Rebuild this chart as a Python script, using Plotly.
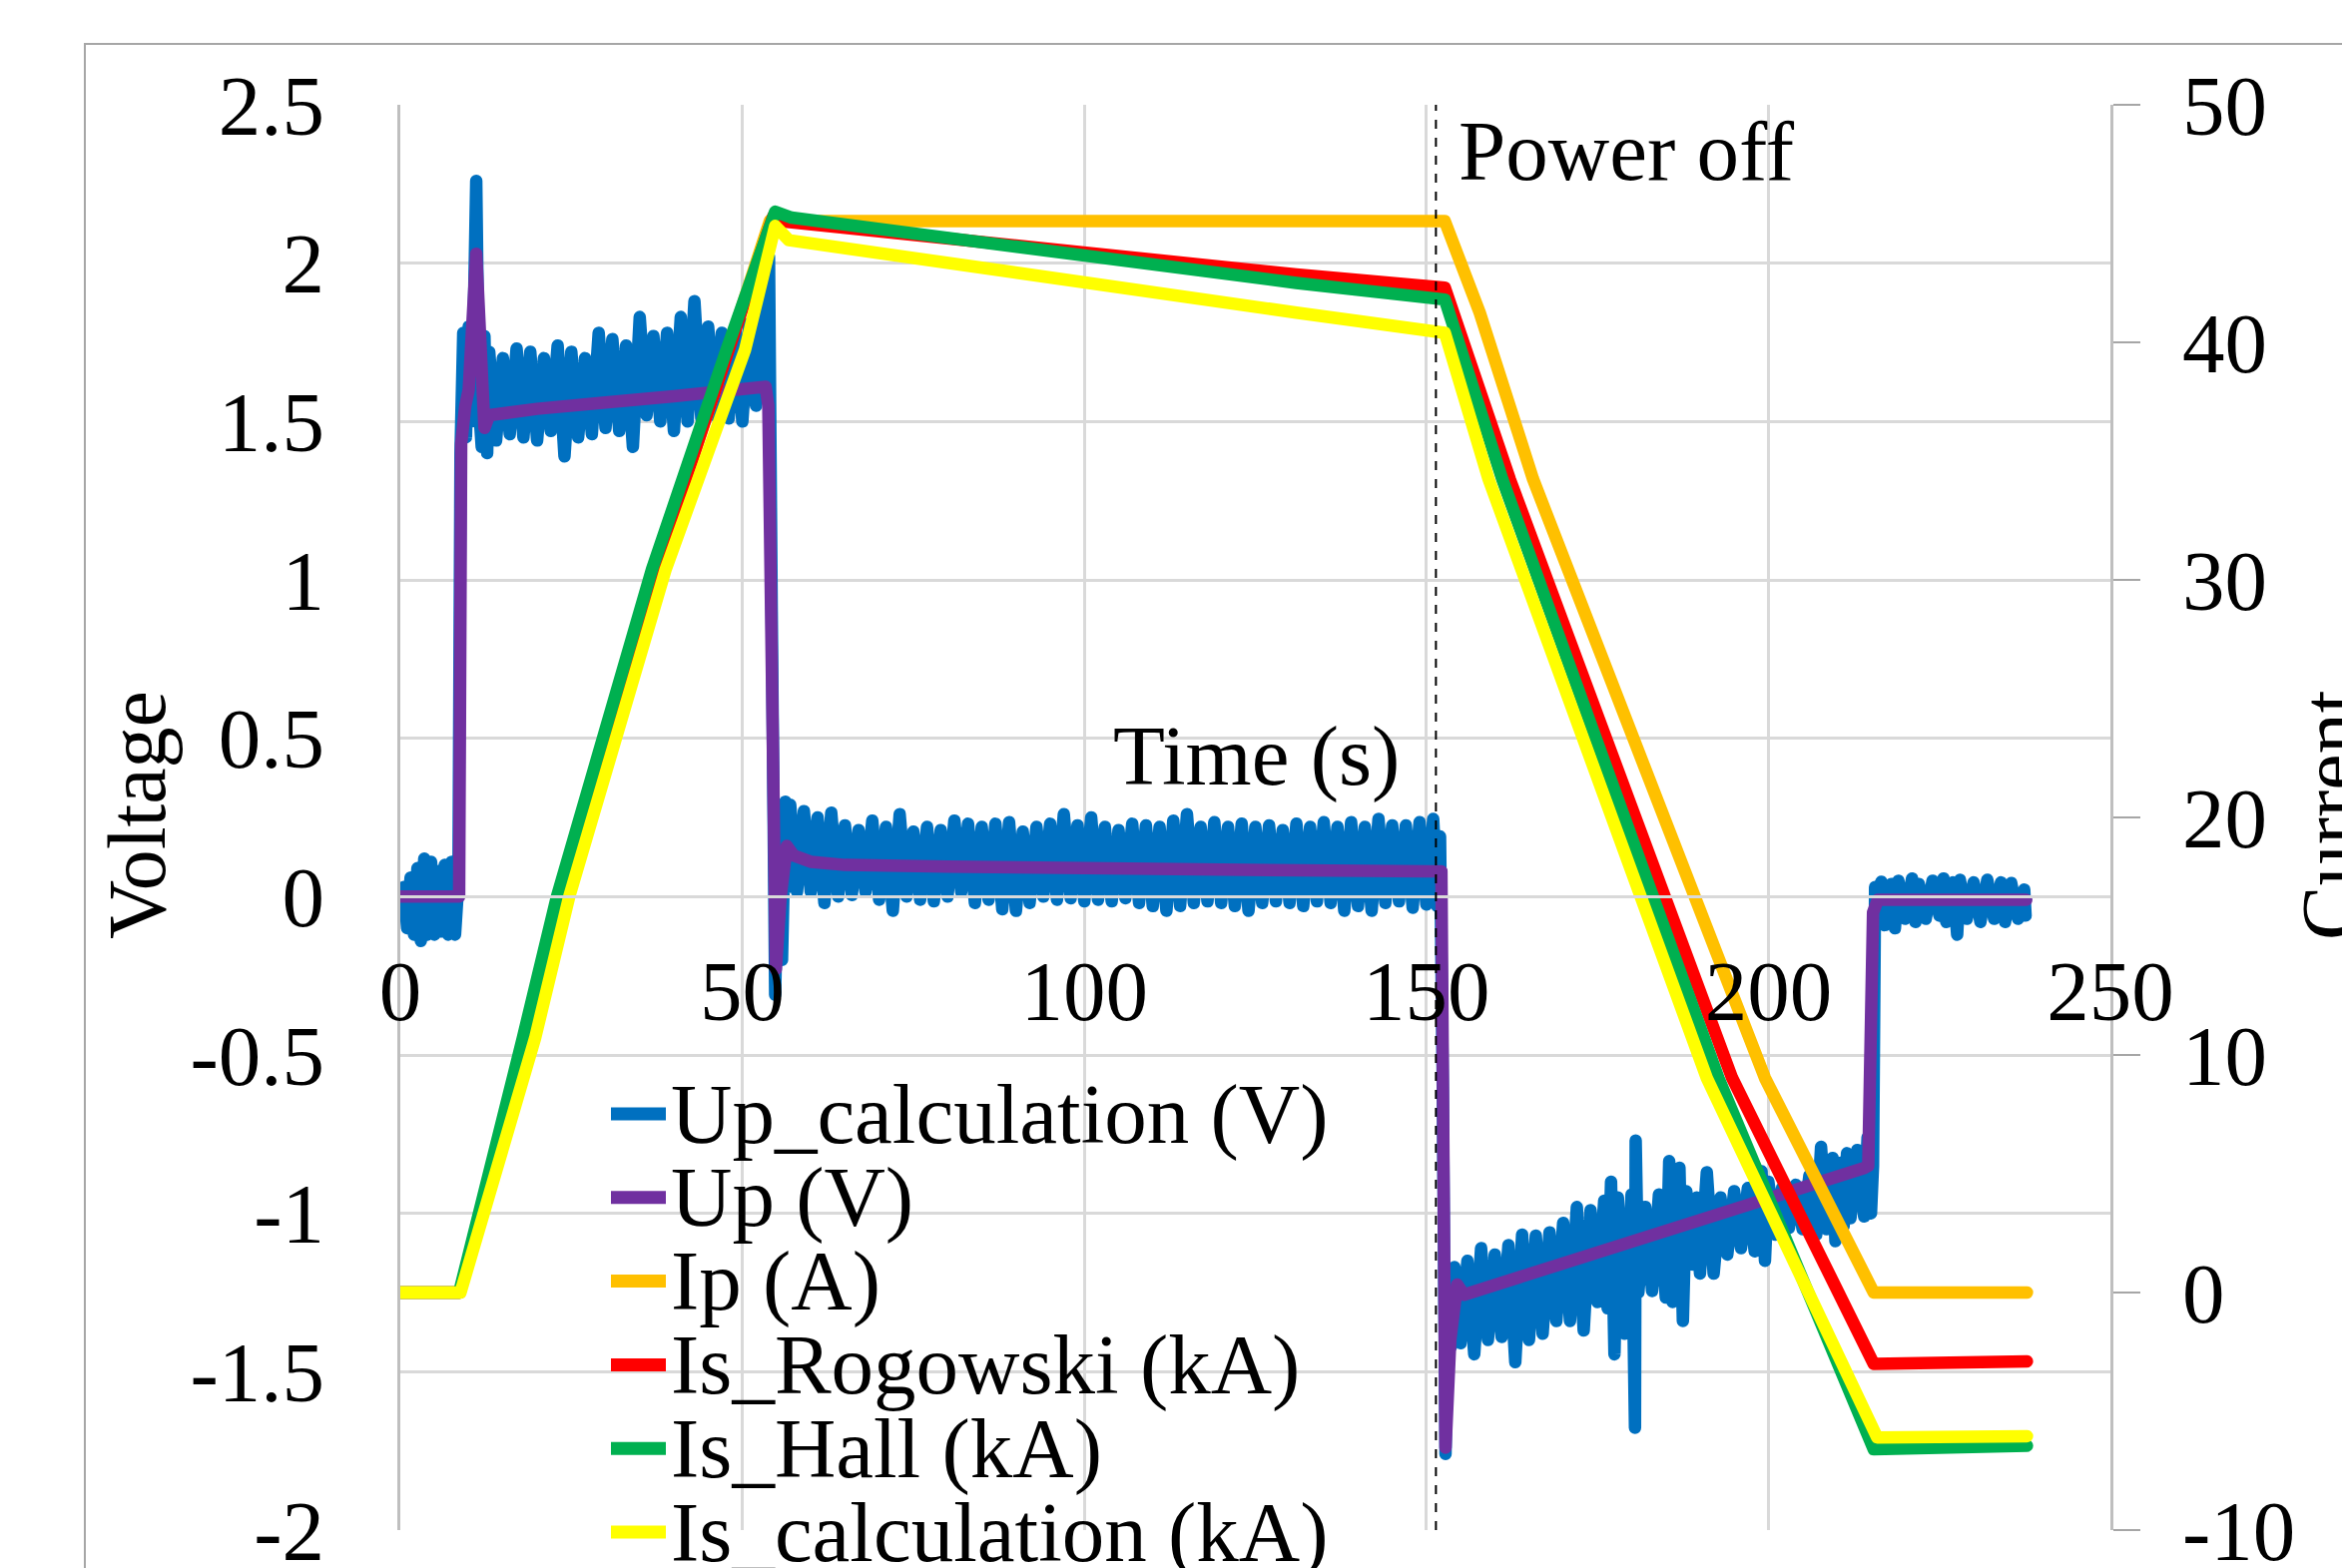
import plotly.graph_objects as go

# ---------------- data ----------------
# Up_calculation (V): dense noisy signal, sampled as alternating high/low readings
t_blue = [0, 0.5, 1, 1.5, 2, 2.5, 3, 3.5, 4, 4.5, 5, 5.5, 6, 6.5, 7, 7.5, 8, 8.5,
          8.8, 9.2, 9.6, 10.0, 10.4, 10.8, 11.1, 11.5, 11.9, 12.3, 12.7,
          13, 14, 15, 16, 17, 18, 19, 20, 21, 22, 23, 24, 25, 26, 27, 28, 29, 30,
          31, 32, 33, 34, 35, 36, 37, 38, 39, 40, 41, 42, 43, 44, 45, 46, 47, 48,
          49, 50, 51, 52, 53, 53.5, 53.9, 54.3, 54.8, 55.3, 55.8, 56.3, 56.7,
          57, 58, 59, 60, 61, 62, 63, 64, 65, 66, 67, 68, 69, 70, 71, 72, 73, 74,
          75, 76, 77, 78, 79, 80, 81, 82, 83, 84, 85, 86, 87, 88, 89, 90, 91, 92,
          93, 94, 95, 96, 97, 98, 99, 100, 101, 102, 103, 104, 105, 106, 107, 108,
          109, 110, 111, 112, 113, 114, 115, 116, 117, 118, 119, 120, 121, 122,
          123, 124, 125, 126, 127, 128, 129, 130, 131, 132, 133, 134, 135, 136,
          137, 138, 139, 140, 141, 142, 143, 144, 145, 146, 147, 148, 149, 150,
          151, 151.6, 152.0, 152.4, 152.8, 153.2, 153.6, 154.1,
          155, 156, 157, 158, 159, 160, 161, 162, 163, 164, 165, 166, 167, 168,
          169, 170, 171, 172, 173, 174, 175, 176, 176.5, 177, 177.5, 178, 179,
          180, 180.5, 180.6, 181, 182, 183, 184, 185, 185.5, 186, 187, 187.5, 188,
          189, 189.5, 190, 191, 192, 193, 194, 195, 196, 197, 198, 199, 199.5,
          200, 201, 202, 203, 204, 205, 206, 207, 207.7, 208.5, 209.4, 209.8,
          210.5, 211, 211.5, 212, 213, 214, 214.5, 215, 215.3,
          215.6, 216, 216.5, 217, 218, 218.5, 219, 220, 221, 221.5, 222, 223, 224,
          225, 225.6, 226, 227, 227.6, 228, 229, 230, 231, 232, 233, 234, 234.6,
          235.5, 236.5, 237.4, 237.6]
v_blue = [0.0, 0.03, -0.10, 0.06, -0.12, 0.09, -0.14, 0.12, -0.12, 0.11, -0.12, 0.08, -0.11, 0.10, -0.12, 0.11, -0.12, 0.05,
          1.40, 1.78, 1.45, 1.80, 1.50, 1.90, 2.26, 1.55, 1.42, 1.77, 1.40,
          1.72, 1.44, 1.70, 1.46, 1.73, 1.45, 1.72, 1.44, 1.70, 1.47, 1.74, 1.39, 1.72, 1.45, 1.70, 1.46, 1.78, 1.48,
          1.76, 1.47, 1.74, 1.42, 1.83, 1.52, 1.77, 1.50, 1.78, 1.47, 1.83, 1.50, 1.88, 1.51, 1.80, 1.52, 1.78, 1.51,
          1.79, 1.50, 1.81, 1.55, 1.86, 1.58, 2.02, 0.90, -0.31, 0.28, -0.20, 0.30, 0.03,
          0.29, 0.015, 0.27, 0.015, 0.25, -0.02, 0.265, 0.0, 0.225, 0.005, 0.21, 0.015, 0.24, -0.01, 0.22, -0.045, 0.26, 0.0,
          0.205, -0.01, 0.22, -0.015, 0.21, 0.0, 0.24, 0.015, 0.23, -0.02, 0.22, -0.01, 0.23, -0.04, 0.235, -0.045, 0.205, -0.02,
          0.22, 0.0, 0.23, -0.01, 0.26, -0.005, 0.225, -0.015, 0.25, -0.01, 0.22, -0.015, 0.21, -0.005, 0.23, -0.02,
          0.225, -0.03, 0.22, -0.045, 0.24, -0.03, 0.26, -0.02, 0.22, -0.015, 0.235, -0.02, 0.22, -0.03,
          0.23, -0.045, 0.22, -0.02, 0.225, -0.015, 0.21, -0.02, 0.23, -0.03, 0.22, -0.015, 0.235, -0.02,
          0.22, -0.045, 0.235, -0.03, 0.22, -0.045, 0.245, -0.02, 0.225, -0.015, 0.225, -0.035, 0.235, -0.025,
          0.245, -0.03, 0.19, -0.60, -1.76, -1.20, -1.42, -1.17,
          -1.41, -1.15, -1.445, -1.11, -1.40, -1.13, -1.39, -1.10, -1.47, -1.067, -1.40, -1.07, -1.38, -1.06,
          -1.34, -1.03, -1.34, -0.98, -1.37, -0.99, -1.28, -0.96, -1.30, -0.90, -1.445, -0.95, -1.38,
          -0.94, -1.677, -0.77, -1.25, -0.98, -1.245, -0.94, -1.266, -0.835, -1.28, -0.856, -1.34, -0.93,
          -1.162, -0.95, -1.19, -0.87, -1.19, -0.95, -1.13, -0.93, -1.11, -0.92, -1.12, -0.867, -1.15,
          -0.90, -1.067, -0.92, -1.046, -0.91, -1.05, -0.88, -1.067, -0.79, -1.05, -0.825, -1.088,
          -0.84, -1.04, -0.81, -1.015, -0.80, -1.01, -0.76, -1.00, -0.85,
          0.03, -0.08, 0.047, -0.09, 0.04, -0.10, 0.05, -0.07, 0.057, -0.08, 0.04, -0.07, 0.05,
          -0.06, 0.057, -0.08, 0.045, -0.12, 0.053, -0.07, 0.045, -0.08, 0.053, -0.07, 0.045, -0.08,
          0.043, -0.07, 0.022, -0.06]

# Up (V)
t_up = [0, 8.6, 8.9, 9.5, 10.0, 11.1, 12.3, 13.0, 20, 30, 40, 53.4, 53.8, 54.9, 55.6, 56.5, 57.5,
        60, 65, 80, 100, 120, 150, 152.2, 152.8, 153.5, 154.5, 155.5, 214.0, 214.6, 215.3, 216.0, 237.7]
v_up = [0, 0, 1.43, 1.55, 1.60, 2.03, 1.48, 1.52, 1.54, 1.56, 1.58, 1.61, 1.55, -0.23, 0.0, 0.16, 0.13,
        0.11, 0.10, 0.095, 0.09, 0.085, 0.08, 0.08, -1.74, -1.40, -1.225, -1.257, -0.857, -0.85, -0.05, -0.01, -0.01]

# Ip (A)
t_ip = [0, 8.7, 18.5, 23.5, 37.5, 54.0, 152.7, 157.8, 165.6, 199.5, 215.4, 237.8]
v_ip = [0, 0, 10.7, 16.67, 30.45, 45.1, 45.1, 41.25, 34.24, 9.03, 0, 0]

# Is_Rogowski (kA)
t_rog = [0, 8.7, 18.3, 23.3, 37.3, 54.5, 55.5, 131, 152.7, 162.2, 194.7, 215.4, 237.8]
v_rog = [0, 0, 10.7, 16.67, 30.45, 45.3, 45.1, 42.86, 42.3, 34.24, 9.03, -3.0, -2.9]

# Is_Hall (kA)
t_hall = [0, 8.6, 17.9, 22.9, 36.8, 47.7, 54.8, 57.2, 131, 152.7, 161.1, 192.7, 215.4, 237.8]
v_hall = [0, 0, 10.7, 16.67, 30.45, 39.69, 45.5, 45.25, 42.5, 41.8, 34.24, 9.03, -6.6, -6.45]

# Is_calculation (kA)
t_iscal = [0, 8.8, 19.7, 24.7, 38.8, 50.4, 54.8, 56.8, 131, 152.7, 159.1, 191.0, 215.9, 237.8]
v_iscal = [0, 0, 10.7, 16.67, 30.45, 39.69, 44.9, 44.3, 41.25, 40.4, 34.24, 9.03, -6.1, -6.05]

series_names = ["Up_calculation (V)", "Up (V)", "Ip (A)", "Is_Rogowski (kA)", "Is_Hall (kA)", "Is_calculation (kA)"]
series_colors = ["#0070C0", "#7030A0", "#FFC000", "#FF0000", "#00B050", "#FFFF00"]

x_ticks = [0, 50, 100, 150, 200, 250]
x_tick_labels = ["0", "50", "100", "150", "200", "250"]
y_ticks = [-2, -1.5, -1, -0.5, 0, 0.5, 1, 1.5, 2, 2.5]
y_tick_labels = ["-2", "-1.5", "-1", "-0.5", "0", "0.5", "1", "1.5", "2", "2.5"]
y2_ticks = [-10, 0, 10, 20, 30, 40, 50]
y2_tick_labels = ["-10", "0", "10", "20", "30", "40", "50"]

power_off_time = 151.4
V_RANGE = [-2, 2.5]
I_RANGE = [-10, 50]

# ---------------- figure ----------------
FONT = "Liberation Serif, Times New Roman, serif"
W, H = 2346, 1571
ML, MR, MT, MB = 401, 232, 105, 38
PW, PH = W - ML - MR, H - MT - MB

fig = go.Figure()
data = [
    (t_blue, v_blue, "y"), (t_up, v_up, "y"),
    (t_ip, v_ip, "y2"), (t_rog, v_rog, "y2"), (t_hall, v_hall, "y2"), (t_iscal, v_iscal, "y2"),
]
for (tx, vy, ax), name, col in zip(data, series_names, series_colors):
    fig.add_trace(go.Scatter(x=tx, y=vy, name=name, mode="lines", yaxis=ax,
                             line=dict(color=col, width=12.5, simplify=False),
                             hoverinfo="skip"))

def py(ypx):
    return (H - MB - ypx) / PH

def px(xpx):
    return (xpx - ML) / PW

annotations = []
shapes = []

# manual legend (rows tightly spaced as in the reference)
row0, row_gap = 1116, 83.8
for i, (name, col) in enumerate(zip(series_names, series_colors)):
    yc = py(row0 + i * row_gap)
    shapes.append(dict(type="line", xref="paper", yref="paper",
                       x0=px(612), x1=px(667), y0=yc, y1=yc,
                       line=dict(color=col, width=13)))
    annotations.append(dict(text=name, xref="paper", yref="paper", x=px(670), y=yc,
                            xanchor="left", yanchor="middle", showarrow=False,
                            font=dict(family=FONT, size=85, color="black")))

annotations.append(dict(text="Power off", xref="x", yref="paper", x=154.4, y=py(151),
                        xanchor="left", yanchor="middle", showarrow=False,
                        font=dict(family=FONT, size=85, color="black")))
annotations.append(dict(text="Time (s)", xref="x", yref="paper", x=125.1, y=py(757),
                        xanchor="center", yanchor="middle", showarrow=False,
                        font=dict(family=FONT, size=85, color="black")))
# axis titles
annotations.append(dict(text="Voltage", xref="paper", yref="paper", x=px(137), y=py(817),
                        xanchor="center", yanchor="middle", textangle=-90, showarrow=False,
                        font=dict(family=FONT, size=82, color="black")))
annotations.append(dict(text="Current", xref="paper", yref="paper", x=px(2334), y=py(817),
                        xanchor="center", yanchor="middle", textangle=-90, showarrow=False,
                        font=dict(family=FONT, size=82, color="black")))

shapes.append(dict(type="line", xref="x", yref="paper", x0=power_off_time, x1=power_off_time,
                   y0=0, y1=1, line=dict(color="black", width=2, dash="dash")))
# chart-area frame (cropped at right/bottom)
shapes.append(dict(type="rect", xref="paper", yref="paper", layer="below",
                   x0=px(85), x1=px(W + 20), y0=py(H + 20), y1=py(44),
                   line=dict(color="#a6a6a6", width=2), fillcolor="rgba(0,0,0,0)"))

tickfont = dict(family=FONT, size=85, color="black")
fig.update_layout(
    width=W, height=H,
    margin=dict(l=ML, r=MR, t=MT, b=MB, pad=0, autoexpand=False),
    paper_bgcolor="white", plot_bgcolor="white",
    showlegend=False,
    font=dict(family=FONT, size=85, color="black"),
    annotations=annotations, shapes=shapes,
    xaxis=dict(range=[0, 250], tickvals=x_ticks, ticktext=x_tick_labels,
               showgrid=True, gridcolor="#d9d9d9", gridwidth=3, zeroline=False,
               showline=True, linecolor="#d9d9d9", linewidth=3,
               anchor="free", position=(0 - V_RANGE[0]) / (V_RANGE[1] - V_RANGE[0]),
               ticks="", ticklabelstandoff=20, ticklabeloverflow="allow",
               automargin=False, tickfont=tickfont),
    yaxis=dict(range=V_RANGE, tickvals=y_ticks, ticktext=y_tick_labels,
               showgrid=True, gridcolor="#d9d9d9", gridwidth=3, zeroline=False,
               showline=True, linecolor="#bfbfbf", linewidth=3,
               ticks="", ticklabelstandoff=56, ticklabeloverflow="allow",
               automargin=False, tickfont=tickfont),
    yaxis2=dict(range=I_RANGE, tickvals=y2_ticks, ticktext=y2_tick_labels,
                overlaying="y", side="right", showgrid=False, zeroline=False,
                showline=True, linecolor="#bfbfbf", linewidth=3,
                ticks="outside", ticklen=27, tickwidth=2, tickcolor="#a6a6a6",
                ticklabelstandoff=25, ticklabeloverflow="allow",
                automargin=False, tickfont=tickfont),
)

post = """
document.body.style.margin = '0';
document.body.style.overflow = 'hidden';
var gd = document.getElementById('{plot_id}');
function fixJoins(){
  gd.querySelectorAll('path.js-line').forEach(function(p){
    p.style.strokeLinejoin = 'round'; p.style.strokeLinecap = 'round';
  });
}
fixJoins();
gd.on('plotly_afterplot', fixJoins);
"""
fig.write_html("out.html", post_script=post, config={"displayModeBar": False})
